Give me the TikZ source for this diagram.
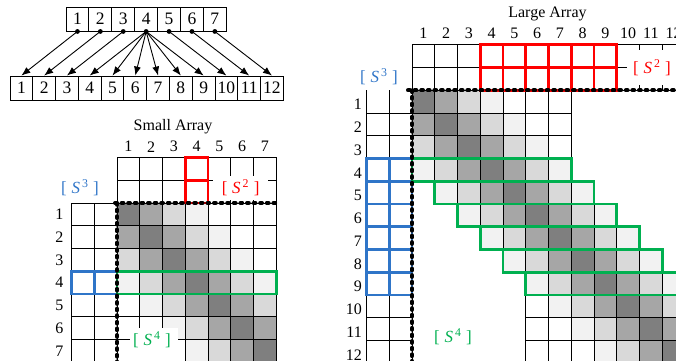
\documentclass[tikz,border=0pt]{standalone}
\usepackage{fontspec}
\setmainfont{Liberation Serif}
\usetikzlibrary{arrows.meta}

% shades of the band, from the diagonal outwards
\definecolor{sh0}{HTML}{7F7F7F}
\definecolor{sh1}{HTML}{A6A6A6}
\definecolor{sh2}{HTML}{D9D9D9}
\definecolor{sh3}{HTML}{F2F2F2}
\definecolor{sh4}{HTML}{FFFFFF}
\definecolor{hired}{HTML}{FF0000}
\definecolor{higreen}{HTML}{00B050}
\definecolor{hiblue}{HTML}{2F75C8}

\newcommand\cellsz{22.75}
% one grid cell: origin x, origin y, row, column, fill colour
\newcommand\gridcell[5]{%
  \pgfmathsetmacro\gcx{#1+(#4-1)*\cellsz}%
  \pgfmathsetmacro\gcy{#2+(#3-1)*\cellsz}%
  \filldraw[gridline, fill=#5] (\gcx,\gcy) rectangle ++(\cellsz,\cellsz);}
% a cell shaded by its distance from the diagonal
\newcommand\shadecell[4]{%
  \pgfmathtruncatemacro\gd{min(abs(#3-#4),4)}%
  \gridcell{#1}{#2}{#3}{#4}{sh\gd}}
% a highlighted cell outline
\newcommand\hicell[5]{%
  \pgfmathsetmacro\gcx{#1+(#4-1)*\cellsz}%
  \pgfmathsetmacro\gcy{#2+(#3-1)*\cellsz}%
  \draw[hiline, draw=#5] (\gcx,\gcy) rectangle ++(\cellsz,\cellsz);}
% bracketed set name with a superscript
\newcommand\setname[1]{[\;\textit{S}\textsuperscript{\,#1}\;]}

\tikzset{
  gridline/.style={draw=black, line width=0.85pt},
  hiline/.style={line width=2.7pt},
  numbox/.style={draw, line width=0.9pt, minimum width=22.9pt, minimum height=24pt,
    inner sep=0pt, font=\fontsize{17.5}{19}\selectfont},
  lbl/.style={inner sep=0pt, font=\fontsize{16}{18}\selectfont},
  setlbl/.style={inner sep=0pt, font=\fontsize{17}{19}\selectfont},
  dotline/.style={line width=4pt, dash pattern=on 1.8pt off 4.8pt, line cap=round},
  maparrow/.style={line width=0.9pt, -{Latex[length=9pt,width=7pt]}},
}

\begin{document}
\begin{tikzpicture}[x=1pt,y=-1pt]
\useasboundingbox (0,0) rectangle (676,360);
\clip (0,0) rectangle (676,360);

% ---------- index mapping 7 -> 12 ----------
\foreach \k in {1,...,7}
  \node[numbox] (t\k) at ({66+22.9*(\k-0.5)},19) {\k};
\foreach \k in {1,...,12}
  \node[numbox, minimum width=22.78pt] (b\k) at ({10+22.78*(\k-0.5)},88) {\k};
\foreach \a/\b in {1/1,2/2,3/3,4/4,4/5,4/6,4/7,4/8,4/9,5/10,6/11,7/12}
  \draw[maparrow] (t\a.south) -- (b\b.north);
\foreach \k in {1,...,7}
  \fill (t\k.south) circle (2.4pt);

% ---------- small array ----------
\def\sx{117}\def\sy{203}
\node[lbl] (smalltitle) at (173,127) {Small Array};
\foreach \j in {1,...,7}
  \node[lbl] (sc\j) at ({\sx+(\j-0.5)*\cellsz},146.7) {\j};
\foreach \i in {1,...,7}
  \node[lbl, anchor=east] (sr\i) at (63.5,{\sy+(\i-0.5)*\cellsz}) {\i};
% header rows and left columns
\foreach \i in {-1,0} \foreach \j in {1,...,7} {\gridcell{\sx}{\sy}{\i}{\j}{white}}
\foreach \i in {1,...,7} \foreach \j in {-1,0} {\gridcell{\sx}{\sy}{\i}{\j}{white}}
% banded block
\foreach \i in {1,...,7} \foreach \j in {1,...,7} {\shadecell{\sx}{\sy}{\i}{\j}}
% highlights
\foreach \i in {-1,0} {\hicell{\sx}{\sy}{\i}{4}{hired}}
\foreach \j in {-1,0} {\hicell{\sx}{\sy}{4}{\j}{hiblue}}
\draw[hiline, draw=higreen] (\sx,{\sy+3*\cellsz}) rectangle ++({7*\cellsz},\cellsz);
% labels
\node[setlbl, text=hiblue] (s3small) at (80,188) {\setname{3}};
\node[setlbl, fill=white, minimum width=55pt, minimum height=24pt, text=hired]
  (s2small) at (240.6,188) {\setname{2}};
\fill[white] (130,328) rectangle (178,362);
\node[setlbl, text=higreen] (s4small) at (152,340) {\setname{4}};
% block boundary
\draw[dotline] (115,\sy) -- (278,\sy);
\draw[dotline] (\sx,\sy) -- (\sx,364);

% ---------- large array ----------
\def\lx{412}\def\ly{90.3}
\node[lbl] (largetitle) at (547.5,14) {Large Array};
\foreach \j in {1,...,12}
  \node[lbl] (lc\j) at ({\lx+(\j-0.5)*\cellsz},33.3) {\j};
\foreach \i in {1,...,12}
  \node[lbl, anchor=east] (lr\i) at (362,{\ly+(\i-0.5)*\cellsz+3}) {\i};
% header rows
\foreach \i in {-1,0} \foreach \j in {1,...,12} {\gridcell{\lx}{\ly}{\i}{\j}{white}}
% left columns (open at the top)
\foreach \k in {0,1,2}
  \draw[gridline] ({\lx-\k*\cellsz},\ly) -- ({\lx-\k*\cellsz},364);
\foreach \k in {1,...,12}
  \draw[gridline] ({\lx-2*\cellsz},{\ly+\k*\cellsz}) -- (\lx,{\ly+\k*\cellsz});
% banded block
\foreach \i in {1,2,3} \foreach \j in {1,...,7} {\shadecell{\lx}{\ly}{\i}{\j}}
\foreach \i in {4,...,9} {%
  \pgfmathtruncatemacro\ja{\i-3}\pgfmathtruncatemacro\jb{\i+3}%
  \foreach \j in {\ja,...,\jb} {\shadecell{\lx}{\ly}{\i}{\j}}}
\foreach \i in {10,11,12} \foreach \j in {6,...,12} {\shadecell{\lx}{\ly}{\i}{\j}}
% highlights
\foreach \i in {-1,0} \foreach \j in {4,...,9} {\hicell{\lx}{\ly}{\i}{\j}{hired}}
\foreach \i in {4,...,9} \foreach \j in {-1,0} {\hicell{\lx}{\ly}{\i}{\j}{hiblue}}
\foreach \i in {4,...,9}
  \draw[hiline, draw=higreen] ({\lx+(\i-4)*\cellsz},{\ly+(\i-1)*\cellsz}) rectangle ++({7*\cellsz},\cellsz);
% labels
\node[setlbl, text=hiblue] (s3large) at (379,77) {\setname{3}};
\node[setlbl, fill=white, minimum width=50pt, minimum height=35pt, text=hired]
  (s2large) at (652,67.5) {\setname{2}};
\node[setlbl, text=higreen] (s4large) at (453,337) {\setname{4}};
% block boundary
\draw[dotline] (408,\ly) -- (680,\ly);
\draw[dotline] (\lx,\ly) -- (\lx,364);
\end{tikzpicture}
\end{document}
